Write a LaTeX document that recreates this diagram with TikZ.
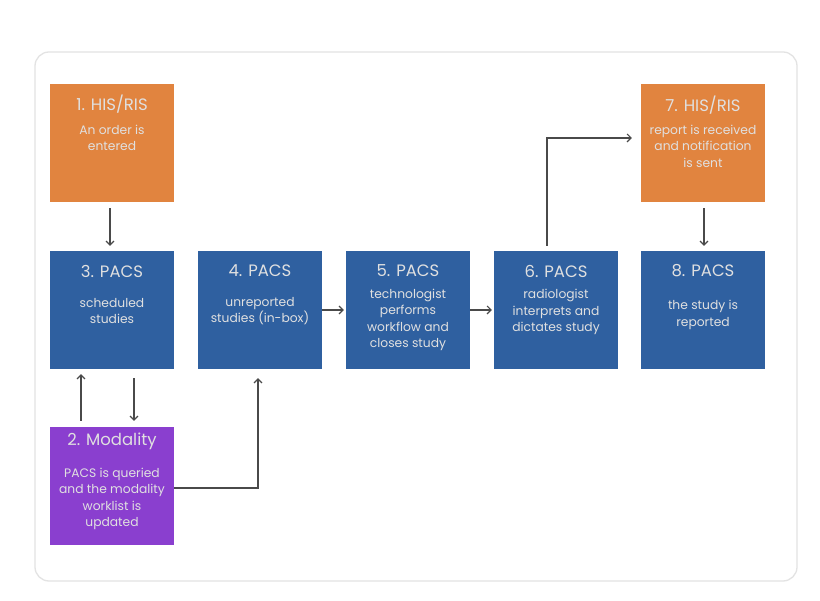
\documentclass[tikz,border=0pt]{standalone}
\usepackage{fontspec}
\setmainfont{Poppins}
\usetikzlibrary{arrows.meta}
\definecolor{orbox}{HTML}{E1843F}
\definecolor{blbox}{HTML}{2F60A0}
\definecolor{pubox}{HTML}{8A3FCF}
\definecolor{arr}{HTML}{4A4A4A}
\begin{document}
\begin{tikzpicture}[x=1pt,y=-1pt,
  box/.style={minimum width=124pt,minimum height=118pt,inner sep=0pt,draw=none},
  ttl/.style={text=white!88!black,font=\fontsize{16.5}{18}\selectfont},
  bdy/.style={text=white!88!black,font=\fontsize{12.3}{16.6}\selectfont,align=center},
  link/.style={draw=arr,line width=1.1pt,-{Straight Barb[length=4pt,width=8pt,line width=1.1pt]}}]
\useasboundingbox[fill=white] (0,0) rectangle (820,601);
\draw[gray!22,line width=1.3pt,rounded corners=14pt] (35,52) rectangle (797,581);
% boxes
\node[box,fill=orbox] (b1) at (112,143) {};
\node[box,fill=blbox] (b3) at (112,310) {};
\node[box,fill=blbox] (b4) at (260,310) {};
\node[box,fill=blbox] (b5) at (408,310) {};
\node[box,fill=blbox] (b6) at (556,310) {};
\node[box,fill=blbox] (b8) at (703,310) {};
\node[box,fill=orbox] (b7) at (703,143) {};
\node[box,fill=pubox] (b2) at (112,486) {};
% titles
\node[ttl] (t1) at (112,104) {1. HIS/RIS};
\node[ttl] (t3) at (112,271) {3. PACS};
\node[ttl] (t4) at (260,271) {4. PACS};
\node[ttl] (t5) at (408,271) {5. PACS};
\node[ttl] (t6) at (556,271) {6. PACS};
\node[ttl] (t8) at (703,271) {8. PACS};
\node[ttl] (t7) at (703,105) {7. HIS/RIS};
\node[ttl] (t2) at (112,441) {2. Modality};
% bodies
\node[bdy] (d1) at (112,138) {An order is\\entered};
\node[bdy] (d3) at (112,311) {scheduled\\studies};
\node[bdy] (d4) at (260,311) {unreported\\studies (in-box)};
\node[bdy] (d5) at (408,320) {technologist\\performs\\workflow and\\closes study};
\node[bdy] (d6) at (556,312) {radiologist\\interprets and\\dictates study};
\node[bdy] (d8) at (703,315) {the study is\\reported};
\node[bdy] (d7) at (703,146) {report is received\\and notification\\is sent};
\node[bdy] (d2) at (112,499) {PACS is queried\\and the modality\\worklist is\\updated};
% connectors
\draw[link,shorten <=6pt,shorten >=5pt] ([xshift=-2pt]b1.south) -- ([xshift=-2pt]b3.north);
\draw[link,shorten <=6pt,shorten >=5pt] ([xshift=-31pt]b2.north) -- ([xshift=-31pt]b3.south);
\draw[link,shorten <=9pt,shorten >=6pt] ([xshift=22pt]b3.south) -- ([xshift=22pt]b2.north);
\draw[link,shorten >=9pt] ([yshift=-2pt]b2.east) -| ([xshift=-2pt]b4.south);
\draw[link,shorten >=2pt] (b4.east) -- (b5.west);
\draw[link,shorten >=2pt] (b5.east) -- (b6.west);
\draw[link,shorten <=5pt,shorten >=9pt] ([xshift=-9pt]b6.north) |- ([yshift=5pt]b7.west);
\draw[link,shorten <=6pt,shorten >=5pt] ([xshift=1pt]b7.south) -- ([xshift=1pt]b8.north);
\end{tikzpicture}
\end{document}
